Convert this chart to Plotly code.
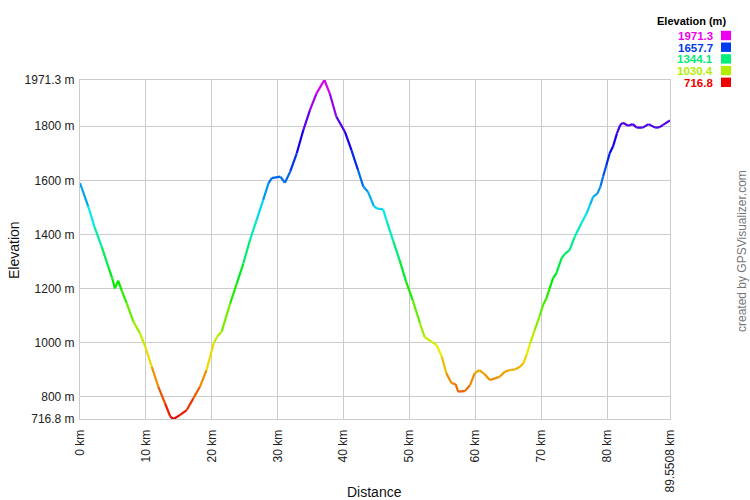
import colorsys
import plotly.graph_objects as go

# ---- data ----
dist_km = [0, 1.24, 2.2, 3.3, 4.3, 4.9, 5.3, 5.8, 6.3, 7.1,
           8.1, 9.1, 9.9, 10.9, 11.9, 12.9, 13.7, 14.2, 15.2, 16.2,
           17.2, 18.2, 19.2, 20.3, 20.8, 21.5, 22.8, 23.8, 24.8, 25.8,
           26.8, 27.8, 28.6, 29.1, 30.4, 31.1, 31.9, 32.9, 33.9, 34.9,
           35.9, 37.1, 37.9, 38.9, 40.2, 41.2, 42.2, 43.0, 43.7, 44.6,
           45.1, 46.0, 46.5, 47.5, 48.5, 49.5, 50.5, 51.6, 52.3, 53.1,
           54.1, 54.9, 55.6, 56.4, 57.0, 57.4, 58.4, 59.2, 59.9, 60.6,
           61.4, 62.2, 63.0, 63.7, 64.5, 65.3, 66.0, 66.8, 67.3, 67.8,
           68.3, 69.0, 69.8, 70.3, 70.8, 71.3, 71.8, 72.3, 73.1, 73.6,
           74.3, 75.1, 76.1, 76.9, 77.4, 77.9, 78.5, 79.0, 79.4, 79.9,
           80.4, 80.9, 81.5, 82.0, 82.4, 83.2, 83.9, 84.5, 85.4, 86.3,
           87.3, 87.9, 88.5, 89.5508]
elev_m = [1590, 1504, 1428, 1354, 1280, 1237, 1200, 1229, 1194, 1145,
          1077, 1034, 985, 910, 836, 775, 726, 716.8, 732, 750,
          793, 836, 898, 997, 1021, 1040, 1145, 1219, 1293, 1379,
          1453, 1527, 1589, 1608, 1614, 1591, 1632, 1700, 1786, 1860,
          1922, 1971.3, 1922, 1836, 1780, 1712, 1638, 1577, 1558, 1505,
          1495, 1493, 1454, 1379, 1305, 1225, 1157, 1071, 1021, 1007,
          991, 948, 886, 849, 846, 818, 820, 842, 886, 898,
          883, 861, 867, 873, 892, 898, 900, 910, 923, 955,
          995, 1045, 1100, 1140, 1164, 1201, 1238, 1256, 1312, 1328,
          1342, 1392, 1441, 1478, 1509, 1540, 1550, 1577, 1614, 1657,
          1700, 1725, 1774, 1805, 1813, 1802, 1808, 1795, 1795, 1808,
          1795, 1796, 1805, 1822]

x_tick_vals = [0, 10, 20, 30, 40, 50, 60, 70, 80, 89.5508]
x_tick_text = ["0 km", "10 km", "20 km", "30 km", "40 km", "50 km",
               "60 km", "70 km", "80 km", "89.5508 km"]
y_tick_vals = [716.8, 800, 1000, 1200, 1400, 1600, 1800, 1971.3]
y_tick_text = ["716.8 m", "800 m", "1000 m", "1200 m", "1400 m",
               "1600 m", "1800 m", "1971.3 m"]
legend_values = [1971.3, 1657.7, 1344.1, 1030.4, 716.8]

E_MIN, E_MAX = 716.8, 1971.3


def elev_color(e):
    f = (e - E_MIN) / (E_MAX - E_MIN)
    f = min(max(f, 0), 1)
    r, g, b = colorsys.hsv_to_rgb(f * 300 / 360, 1.0, 0.93)
    return "rgb(%d,%d,%d)" % (round(r * 255), round(g * 255), round(b * 255))


fig = go.Figure()
for i in range(len(dist_km) - 1):
    mid = (elev_m[i] + elev_m[i + 1]) / 2
    fig.add_trace(go.Scatter(
        x=[dist_km[i], dist_km[i + 1]], y=[elev_m[i], elev_m[i + 1]],
        mode="lines", line=dict(color=elev_color(mid), width=2.2),
        showlegend=False, hoverinfo="skip"))

# plot area in pixels
L, R, T, B = 80, 670, 80, 419
W, H = 750, 500


def px(xp):
    return (xp - L) / (R - L)


def py(yp):
    return (B - yp) / (B - T)


FONT = "Arial, Liberation Sans, sans-serif"
annotations = [
    dict(text="Elevation", x=px(14), y=py(250), textangle=-90, showarrow=False,
         xanchor="center", yanchor="middle",
         xref="paper", yref="paper", font=dict(size=14, color="#111", family=FONT)),
    dict(text="Distance", x=px(374), y=py(492), showarrow=False,
         xanchor="center", yanchor="middle",
         xref="paper", yref="paper", font=dict(size=14, color="#111", family=FONT)),
    dict(text="created by GPSVisualizer.com", x=px(742), y=py(251), textangle=-90,
         xanchor="center", yanchor="middle",
         showarrow=False, xref="paper", yref="paper",
         font=dict(size=12, color="#777", family=FONT)),
    dict(text="<b>Elevation (m)</b>", x=px(728), y=py(21), xanchor="right",
         yanchor="middle",
         showarrow=False, xref="paper", yref="paper", height=12,
         font=dict(size=11, color="#000", family=FONT)),
]
shapes = []
row_y = [35.5, 47.2, 58.9, 70.6, 82.3]
for v, ry in zip(legend_values, row_y):
    c = elev_color(v)
    annotations.append(dict(text="<b>%.1f</b>" % v, x=px(715), y=py(ry), xanchor="right",
                            yanchor="middle",
                            showarrow=False, xref="paper", yref="paper", height=11,
                            font=dict(size=11.5, color=c, family=FONT)))
    shapes.append(dict(type="rect", xref="paper", yref="paper",
                       x0=px(721), x1=px(731), y0=py(ry + 4.7), y1=py(ry - 4.7),
                       fillcolor=c, line=dict(width=0)))

fig.update_layout(
    width=W, height=H, autosize=False,
    margin=dict(l=L, r=W - R, t=T, b=H - B, pad=0),
    paper_bgcolor="white", plot_bgcolor="white",
    font=dict(family=FONT, size=12, color="#222"),
    annotations=annotations, shapes=shapes,
    xaxis=dict(range=[0, 89.5508], tickvals=x_tick_vals, ticktext=x_tick_text,
               tickangle=-90, showgrid=True, gridcolor="#cccccc", gridwidth=1,
               zeroline=False, showline=True, linecolor="#cccccc", mirror=True,
               ticks="outside", ticklen=5, tickcolor="rgba(0,0,0,0)",
               automargin=False, tickfont=dict(size=12, color="#222")),
    yaxis=dict(range=[E_MIN, E_MAX], tickvals=y_tick_vals, ticktext=y_tick_text,
               showgrid=True, gridcolor="#cccccc", gridwidth=1,
               zeroline=False, showline=True, linecolor="#cccccc", mirror=True,
               ticks="outside", ticklen=2, tickcolor="rgba(0,0,0,0)",
               automargin=False, tickfont=dict(size=12, color="#222")),
)

fig.write_html("out.html", config={"displayModeBar": False},
               post_script="document.body.style.margin='0';document.body.style.overflow='hidden';")
